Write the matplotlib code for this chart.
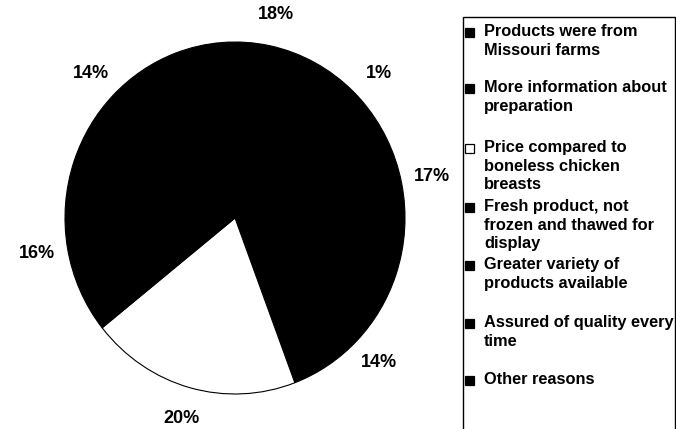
import matplotlib
matplotlib.use("Agg")
import matplotlib.pyplot as plt
import matplotlib.patches as mpatches

W, H = 676, 429

# data: legend order, Excel draws clockwise starting at the first series
labels = [
    "Products were from\nMissouri farms",
    "More information about\npreparation",
    "Price compared to\nboneless chicken\nbreasts",
    "Fresh product, not\nfrozen and thawed for\ndisplay",
    "Greater variety of\nproducts available",
    "Assured of quality every\ntime",
    "Other reasons",
]
values = [17, 14, 20, 16, 14, 18, 1]
colors = ["#000000", "#000000", "#FFFFFF", "#000000", "#000000", "#000000", "#000000"]

plt.rcParams["font.family"] = ["Liberation Sans", "DejaVu Sans"]

fig = plt.figure(figsize=(W / 100, H / 100), dpi=100)
fig.patch.set_facecolor("white")

# ── Pie ──────────────────────────────────────────────────────────────────────
cx, cy, rx, ry = 235, 218, 170, 176
ax = fig.add_axes([(cx - rx) / W, (H - cy - ry) / H, 2 * rx / W, 2 * ry / H])
wedges, _, autotexts = ax.pie(
    values, colors=colors, startangle=42.2, counterclock=False,
    autopct="%1.0f%%", pctdistance=1.18,
    wedgeprops={"edgecolor": "black", "linewidth": 0.8},
)
for t in autotexts:
    t.set_fontsize(13)
    t.set_fontweight("bold")
    t.set_color("black")
ax.set_aspect("auto")
ax.set_xlim(-1, 1)
ax.set_ylim(-1, 1)

# ── Legend (drawn by hand to match the scanned layout) ──────────────────────
fig.add_artist(mpatches.Rectangle(
    (463 / W, -0.05), (675 - 463) / W, (H - 17) / H + 0.05,
    transform=fig.transFigure, fill=False, edgecolor="black", linewidth=1.0))

first_line_y = [32, 88, 148, 207, 265, 323, 380]
for lbl, c, yc in zip(labels, colors, first_line_y):
    fig.add_artist(mpatches.Rectangle(
        (465 / W, (H - yc - 4.5) / H), 9 / W, 9 / H,
        transform=fig.transFigure, facecolor=c, edgecolor="black", linewidth=0.9))
    fig.text(484 / W, (H - yc + 8) / H, lbl, ha="left", va="top",
             fontsize=11.8, fontweight="bold", linespacing=1.3)

fig.savefig("out.png", dpi=100, facecolor="white")
